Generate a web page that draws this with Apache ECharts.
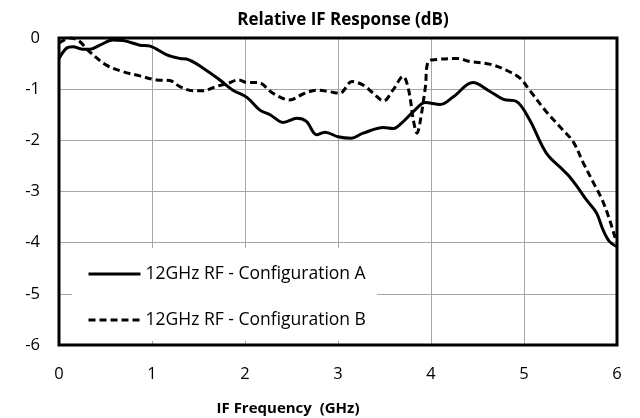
<!DOCTYPE html>
<html><head><meta charset="utf-8">
<script src="https://cdn.jsdelivr.net/npm/echarts@6/dist/echarts.min.js"></script>
<style>html,body{margin:0;padding:0;background:#fff}#c{width:640px;height:418px}</style>
</head><body><div id="c"></div>
<script>
const xTicks = [0, 1, 2, 3, 4, 5, 6];
const yTicks = [0, -1, -2, -3, -4, -5, -6];
const seriesNames = ['12GHz RF - Configuration A', '12GHz RF - Configuration B'];
const freqA = [0, 0.08, 0.15, 0.25, 0.33, 0.44, 0.58, 0.69, 0.87, 0.98, 1.16, 1.30, 1.37, 1.55, 1.73, 1.87, 2.02, 2.16, 2.27, 2.41, 2.56, 2.66, 2.77, 2.86, 3.0, 3.14, 3.27, 3.49, 3.59, 3.68, 3.81, 3.94, 4.1, 4.24, 4.45, 4.63, 4.78, 4.92, 5.06, 5.24, 5.42, 5.49, 5.57, 5.67, 5.78, 5.85, 5.92, 6.0];
const respA = [-0.40, -0.20, -0.17, -0.22, -0.22, -0.14, -0.04, -0.05, -0.14, -0.16, -0.33, -0.40, -0.41, -0.59, -0.82, -1.02, -1.16, -1.41, -1.50, -1.65, -1.57, -1.63, -1.89, -1.84, -1.93, -1.96, -1.86, -1.75, -1.77, -1.67, -1.44, -1.26, -1.30, -1.15, -0.87, -1.04, -1.20, -1.24, -1.60, -2.25, -2.58, -2.71, -2.90, -3.16, -3.42, -3.75, -3.98, -4.08];
const freqB = [0, 0.12, 0.21, 0.33, 0.51, 0.69, 0.87, 1.05, 1.19, 1.30, 1.44, 1.55, 1.70, 1.80, 1.93, 2.02, 2.14, 2.30, 2.48, 2.63, 2.77, 2.91, 3.02, 3.15, 3.27, 3.38, 3.49, 3.59, 3.70, 3.76, 3.81, 3.85, 3.88, 3.94, 3.97, 4.06, 4.28, 4.42, 4.63, 4.81, 4.96, 5.06, 5.24, 5.42, 5.53, 5.64, 5.75, 5.84, 5.92, 5.98, 6.0];
const respB = [-0.10, 0.0, -0.05, -0.27, -0.53, -0.66, -0.74, -0.82, -0.83, -0.95, -1.03, -1.03, -0.94, -0.90, -0.82, -0.87, -0.87, -1.08, -1.21, -1.09, -1.02, -1.05, -1.08, -0.85, -0.92, -1.08, -1.23, -1.02, -0.75, -1.02, -1.60, -1.86, -1.67, -0.95, -0.46, -0.42, -0.40, -0.46, -0.51, -0.63, -0.79, -1.02, -1.44, -1.80, -2.03, -2.45, -2.84, -3.16, -3.55, -3.90, -4.0];

const font = 'Open Sans';
const chart = echarts.init(document.getElementById('c'), null, {renderer: 'canvas'});
chart.setOption({
  animation: false,
  backgroundColor: '#fff',
  title: [
    {text: 'Relative IF Response (dB)', left: 338, top: 7, textAlign: 'center',
     textStyle: {fontFamily: font, fontWeight: 'bold', fontSize: 17, color: '#000'}},
    {text: 'IF Frequency  (GHz)', left: 283, top: 396, textAlign: 'center',
     textStyle: {fontFamily: font, fontWeight: 'bold', fontSize: 15, color: '#000'}}
  ],
  legend: {
    orient: 'vertical', left: 72, top: 248, z: 2,
    padding: [17, 11, 12, 15], itemGap: 28, itemWidth: 52, itemHeight: 14,
    backgroundColor: '#fff',
    itemStyle: {opacity: 0},
    lineStyle: {width: 3, color: '#000'},
    textStyle: {fontFamily: font, fontSize: 17.5, color: '#000'},
    data: seriesNames
  },
  grid: {left: 59, right: 23, top: 38, bottom: 73, show: true, backgroundColor: 'transparent',
         borderColor: '#000', borderWidth: 3, z: 3},
  xAxis: {
    type: 'value', min: xTicks[0], max: xTicks[xTicks.length - 1], interval: 1,
    axisLine: {show: false}, axisTick: {show: false},
    splitLine: {show: true, lineStyle: {color: '#a6a6a6', width: 1}},
    axisLabel: {margin: 21, fontFamily: font, fontSize: 16.5, color: '#000'}
  },
  yAxis: {
    type: 'value', min: yTicks[yTicks.length - 1], max: yTicks[0], interval: 1,
    axisLine: {show: false}, axisTick: {show: false},
    splitLine: {show: true, lineStyle: {color: '#a6a6a6', width: 1}},
    axisLabel: {margin: 19, fontFamily: font, fontSize: 16.5, color: '#000'}
  },
  series: [
    {name: seriesNames[0], type: 'line', smooth: 0.35, showSymbol: false, symbol: 'none', z: 5,
     color: '#000', lineStyle: {color: '#000', width: 3, type: 'solid'},
     data: freqA.map((f, i) => [f, respA[i]])},
    {name: seriesNames[1], type: 'line', smooth: 0.35, showSymbol: false, symbol: 'none', z: 5,
     color: '#000', lineStyle: {color: '#000', width: 3, type: [7, 4]},
     data: freqB.map((f, i) => [f, respB[i]])}
  ]
});
</script></body></html>
